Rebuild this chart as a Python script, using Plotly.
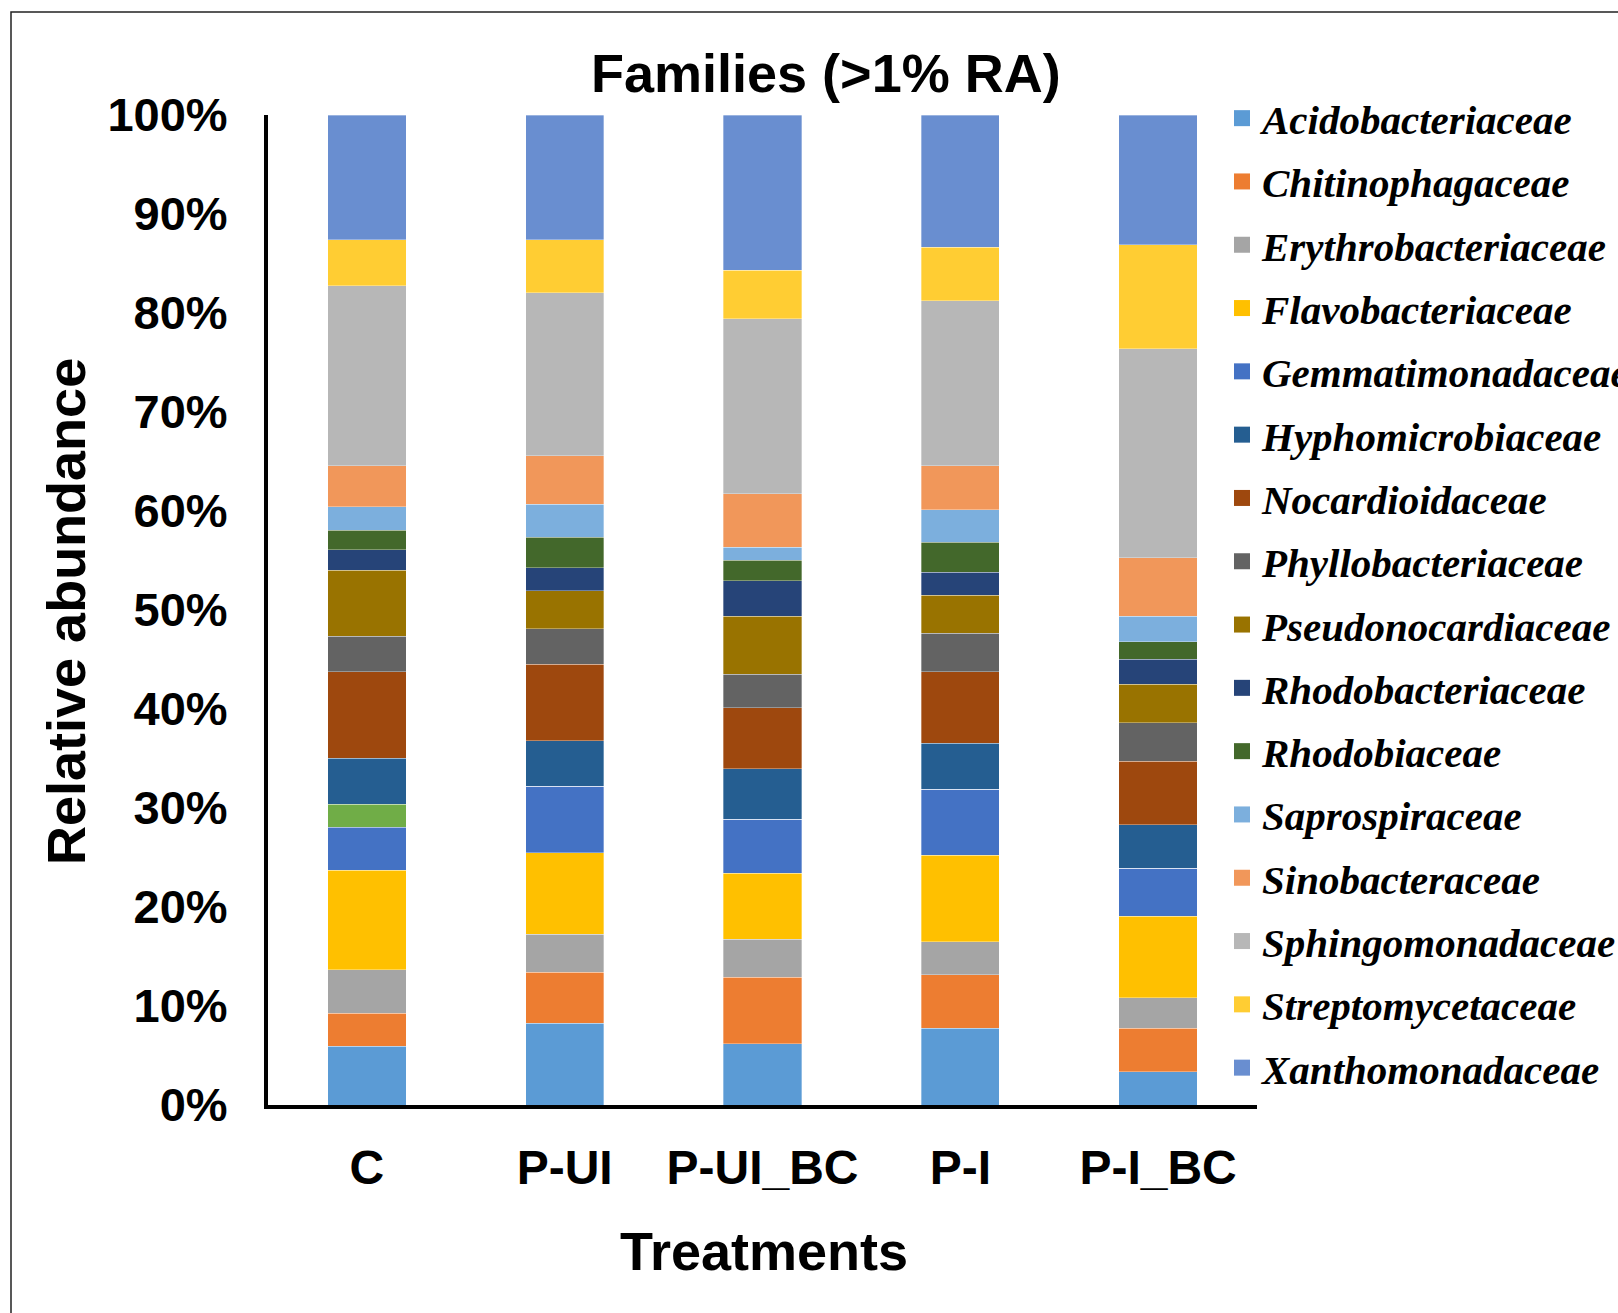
import plotly.graph_objects as go

treatments = ["C", "P-UI", "P-UI_BC", "P-I", "P-I_BC"]

# Relative abundance (%) per family, stacked bottom -> top
acidobacteriaceae   = [5.96, 8.25, 6.19, 7.75, 3.36]
chitinophagaceae    = [3.33, 5.15, 6.71, 5.41, 4.39]
erythrobacteriaceae = [4.37, 3.87, 3.83, 3.33, 3.09]
flavobacteriaceae   = [10.04, 8.21, 6.70, 8.75, 8.21]
gemmatimonadaceae   = [4.34, 6.70, 5.42, 6.67, 4.88]
other_family        = [2.36, 0.0, 0.0, 0.0, 0.0]
hyphomicrobiaceae   = [4.61, 4.61, 5.11, 4.61, 4.37]
nocardioidaceae     = [8.74, 7.71, 6.16, 7.23, 6.41]
phyllobacteriaceae  = [3.58, 3.60, 3.37, 3.88, 3.89]
pseudonocardiaceae  = [6.69, 3.87, 5.89, 3.84, 3.88]
rhodobacteriaceae   = [2.05, 2.29, 3.60, 2.32, 2.53]
rhodobiaceae        = [1.99, 3.10, 2.05, 3.03, 1.77]
saprospiraceae      = [2.36, 3.33, 1.29, 3.33, 2.60]
sinobacteraceae     = [4.14, 4.88, 5.41, 4.41, 5.89]
sphingomonadaceae   = [18.21, 16.46, 17.71, 16.70, 21.10]
streptomycetaceae   = [4.65, 5.39, 4.88, 5.38, 10.50]
xanthomonadaceae    = [12.58, 12.58, 15.68, 13.36, 13.13]

families = [
    ("Acidobacteriaceae", acidobacteriaceae, "#5B9BD5", True),
    ("Chitinophagaceae", chitinophagaceae, "#ED7D31", True),
    ("Erythrobacteriaceae", erythrobacteriaceae, "#A5A5A5", True),
    ("Flavobacteriaceae", flavobacteriaceae, "#FFC000", True),
    ("Gemmatimonadaceae", gemmatimonadaceae, "#4472C4", True),
    ("Other", other_family, "#70AD47", False),
    ("Hyphomicrobiaceae", hyphomicrobiaceae, "#255E91", True),
    ("Nocardioidaceae", nocardioidaceae, "#9E480E", True),
    ("Phyllobacteriaceae", phyllobacteriaceae, "#636363", True),
    ("Pseudonocardiaceae", pseudonocardiaceae, "#997300", True),
    ("Rhodobacteriaceae", rhodobacteriaceae, "#264478", True),
    ("Rhodobiaceae", rhodobiaceae, "#43682B", True),
    ("Saprospiraceae", saprospiraceae, "#7CAFDD", True),
    ("Sinobacteraceae", sinobacteraceae, "#F1975A", True),
    ("Sphingomonadaceae", sphingomonadaceae, "#B7B7B7", True),
    ("Streptomycetaceae", streptomycetaceae, "#FFCD33", True),
    ("Xanthomonadaceae", xanthomonadaceae, "#698ED0", True),
]

fig = go.Figure()
for name, vals, color, inlegend in families:
    fig.add_trace(go.Bar(
        x=treatments, y=vals, name=name,
        marker=dict(color=color, line=dict(color="rgba(255,255,255,0.55)", width=0.6)),
        showlegend=False, legendgroup=name,
    ))
# legend entries (larger square swatches)
for name, vals, color, inlegend in families:
    if not inlegend:
        continue
    fig.add_trace(go.Scatter(
        x=[None], y=[None], mode="markers", name=name, legendgroup=name,
        marker=dict(symbol="square", size=16, color=color),
        showlegend=True, hoverinfo="skip",
    ))

W, H = 1618, 1313
L, R, T, B = 268, 361, 115, 208
pw = W - L - R
ph = H - T - B

def px2x(px):
    return (px - L) / pw

def py2y(py):
    return (H - B - py) / ph

sans = "Liberation Sans, Arial, Helvetica, sans-serif"

fig.update_layout(
    width=W, height=H,
    margin=dict(l=L, r=R, t=T, b=B, autoexpand=False),
    barmode="stack",
    bargap=0.604,
    plot_bgcolor="white",
    paper_bgcolor="white",
    font=dict(family=sans, color="black"),
    showlegend=True,
    legend=dict(
        x=px2x(1222), y=py2y(85), xanchor="left", yanchor="top",
        font=dict(family="Liberation Serif, Times New Roman, serif", size=41,
                  weight="bold", style="italic", color="black"),
        tracegroupgap=7, traceorder="grouped",
        bgcolor="rgba(0,0,0,0)", borderwidth=0,
        maxheight=1250,
    ),
    xaxis=dict(
        type="category",
        showline=True, linecolor="black", linewidth=4,
        showgrid=False, zeroline=False, ticks="",
        tickfont=dict(family=sans, size=48, weight="bold"),
        ticklabelstandoff=17,
    ),
    yaxis=dict(
        range=[0, 100], dtick=10, ticksuffix="%",
        showline=True, linecolor="black", linewidth=4,
        showgrid=False, zeroline=False, ticks="",
        tickfont=dict(family=sans, size=47, weight="bold"),
        ticklabelstandoff=27,
    ),
    annotations=[
        dict(text="Families (>1% RA)", xref="paper", yref="paper",
             x=px2x(826), y=py2y(73), xanchor="center", yanchor="middle",
             showarrow=False, font=dict(family=sans, size=54, weight="bold")),
        dict(text="Treatments", xref="paper", yref="paper",
             x=px2x(764), y=py2y(1251), xanchor="center", yanchor="middle",
             showarrow=False, font=dict(family=sans, size=54, weight="bold")),
        dict(text="Relative abundance", xref="paper", yref="paper",
             x=px2x(66), y=py2y(612), xanchor="center", yanchor="middle",
             textangle=-90, showarrow=False,
             font=dict(family=sans, size=54, weight="bold")),
    ],
    shapes=[
        dict(type="rect", xref="paper", yref="paper",
             x0=px2x(11), x1=px2x(1700), y0=py2y(1400), y1=py2y(12),
             line=dict(color="#222222", width=1.5), fillcolor="rgba(0,0,0,0)",
             layer="below"),
    ],
)

fig.write_html("out.html")
